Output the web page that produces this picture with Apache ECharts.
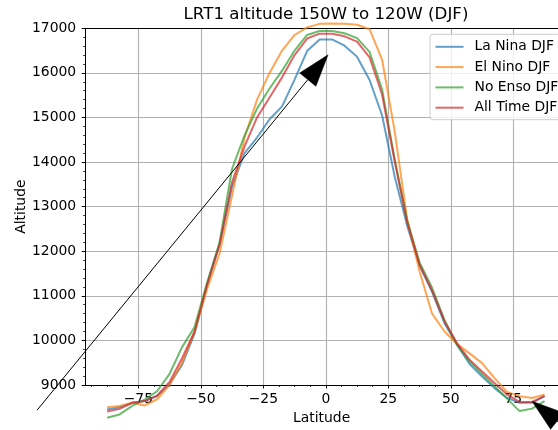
<!DOCTYPE html>
<html><head><meta charset="utf-8">
<script src="https://cdn.jsdelivr.net/npm/echarts@6/dist/echarts.min.js"></script>
<style>html,body{margin:0;padding:0;background:#fff}#c{width:558px;height:430px}</style>
</head><body><div id="c"></div>
<script>
const latitudes = [-87.5, -82.5, -77.5, -72.5, -67.5, -62.5, -57.5, -52.5, -47.5, -42.5, -37.5, -32.5,
  -27.5, -22.5, -17.5, -12.5, -7.5, -2.5, 2.5, 7.5, 12.5, 17.5, 22.5, 27.5,
  32.5, 37.5, 42.5, 47.5, 52.5, 57.5, 62.5, 67.5, 72.5, 77.5, 82.5, 87.5];
const laNina = [8450, 8500, 8600, 8640, 8750, 9020, 9450, 10150, 11250, 12150, 13450, 14200,
  14550, 14960, 15250, 15850, 16490, 16750, 16750, 16610, 16360, 15840, 15050, 13690,
  12580, 11680, 11090, 10380, 9900, 9470, 9190, 8930, 8710, 8600, 8600, 8750];
const elNino = [8500, 8530, 8600, 8540, 8680, 9000, 9500, 10200, 11150, 11950, 13250, 14550,
  15400, 16000, 16500, 16850, 17020, 17100, 17110, 17100, 17080, 16980, 16300, 14710,
  12730, 11550, 10600, 10200, 9920, 9710, 9490, 9155, 8845, 8750, 8710, 8785];
const noEnso = [8265, 8340, 8530, 8670, 8860, 9250, 9850, 10300, 11300, 12200, 13850, 14600,
  15200, 15650, 16050, 16500, 16850, 16940, 16940, 16890, 16780, 16470, 15630, 14080,
  12700, 11750, 11180, 10455, 9900, 9530, 9245, 8970, 8695, 8415, 8470, 8640];
const allTime = [8405, 8465, 8600, 8640, 8760, 9070, 9600, 10200, 11250, 12150, 13550, 14350,
  15000, 15450, 15900, 16400, 16770, 16880, 16880, 16820, 16700, 16350, 15520, 14030,
  12660, 11700, 11120, 10425, 9935, 9565, 9305, 9045, 8785, 8620, 8620, 8750];
const seriesNames = ['La Nina DJF', 'El Nino DJF', 'No Enso DJF', 'All Time DJF'];
const xTicks = [-75, -50, -25, 0, 25, 50, 75];
const xMinorTicks = [-93.75, -87.5, -81.25, -68.75, -62.5, -56.25, -43.75, -37.5, -31.25, -18.75, -12.5, -6.25,
  6.25, 12.5, 18.75, 31.25, 37.5, 43.75, 56.25, 62.5, 68.75, 81.25, 87.5];
const yTicks = [9000, 10000, 11000, 12000, 13000, 14000, 15000, 16000, 17000];
// visible part of the x range (the plot continues past the right edge of the picture)
const xMin = -96.25, xMaxVisible = 92.88;
// annotation arrows (data coordinates: [tail], [tip])
const arrow1 = [[-115.5, 8435], [0.9, 16404]];
const arrow2 = [[176, 4480], [82.5, 8636]];

const colors = ['rgba(31,119,180,0.7)', 'rgba(255,127,14,0.7)', 'rgba(44,160,44,0.7)', 'rgba(214,39,40,0.7)'];
const values = [laNina, elNino, noEnso, allTime];
const FONT = 'DejaVu Sans';

const chart = echarts.init(document.getElementById('c'), null, {renderer: 'canvas'});
const option = {
  animation: false,
  backgroundColor: '#fff',
  title: {
    text: 'LRT1 altitude 150W to 120W (DJF)',
    left: 326, top: 6, padding: 0, textAlign: 'center',
    textStyle: {fontFamily: FONT, fontSize: 16.7, fontWeight: 'normal', color: '#000'}
  },
  grid: {left: 85.2, top: 28.3, right: 0, height: 358.4, show: false},
  legend: {
    orient: 'vertical', left: 430, top: 34.3, icon: 'rect',
    padding: [5.5, 2, 5, 5.5], itemWidth: 28, itemHeight: 2, itemGap: 6.3,
    backgroundColor: 'rgba(255,255,255,0.8)', borderColor: '#cccccc', borderWidth: 1, borderRadius: 3,
    textStyle: {fontFamily: FONT, fontSize: 13.9, color: '#000', padding: [0, 0, 0, 6]},
    data: seriesNames
  },
  xAxis: [{
    type: 'value', min: xMin, max: xMaxVisible, position: 'bottom',
    name: 'Latitude', nameLocation: 'middle', nameGap: 26,
    nameTextStyle: {fontFamily: FONT, fontSize: 13.9, color: '#000'},
    axisLine: {show: true, onZero: false, lineStyle: {color: '#000', width: 1}},
    axisTick: {show: true, length: 3.5, customValues: xTicks, lineStyle: {color: '#000', width: 1}},
    axisLabel: {customValues: xTicks, margin: 7, fontFamily: FONT, fontSize: 13.9, color: '#000',
      formatter: v => String(v).replace('-', '\u2212')},
    splitLine: {show: true, lineStyle: {color: '#b0b0b0', width: 1.1}}
  }, {
    type: 'value', min: xMin, max: xMaxVisible, position: 'bottom',
    axisLine: {show: false, onZero: false},
    axisTick: {show: true, length: 2, customValues: xMinorTicks, lineStyle: {color: '#000', width: 0.8}},
    axisLabel: {show: false},
    splitLine: {show: false}
  }, {
    type: 'value', min: xMin, max: xMaxVisible, position: 'top',
    axisLine: {show: true, onZero: false, lineStyle: {color: '#000', width: 1}},
    axisTick: {show: false}, axisLabel: {show: false}, splitLine: {show: false}
  }],
  yAxis: {
    type: 'value', min: 9000, max: 17000, interval: 1000,
    name: 'Altitude', nameLocation: 'middle', nameGap: 57, nameMoveOverlap: false,
    nameTextStyle: {fontFamily: FONT, fontSize: 13.9, color: '#000'},
    axisLine: {show: true, onZero: false, lineStyle: {color: '#000', width: 1}},
    axisTick: {show: true, length: 3.5, lineStyle: {color: '#000', width: 1}},
    minorTick: {show: true, splitNumber: 5, length: 2, lineStyle: {color: '#000', width: 0.8}},
    axisLabel: {margin: 9, fontFamily: FONT, fontSize: 13.9, color: '#000', formatter: v => String(v)},
    splitLine: {show: true, lineStyle: {color: '#b0b0b0', width: 1.1}}
  },
  series: seriesNames.map((name, k) => ({
    name, type: 'line', xAxisIndex: 0, yAxisIndex: 0,
    data: latitudes.map((x, i) => [x, values[k][i]]),
    symbol: 'none', clip: false, color: colors[k],
    lineStyle: {width: 2, color: colors[k], join: 'round'},
    z: 3
  }))
};
chart.setOption(option);

function arrowGraphic(a) {
  const S = chart.convertToPixel({xAxisIndex: 0, yAxisIndex: 0}, a[0]);
  const T = chart.convertToPixel({xAxisIndex: 0, yAxisIndex: 0}, a[1]);
  const dx = T[0] - S[0], dy = T[1] - S[1], L = Math.hypot(dx, dy);
  const ux = dx / L, uy = dy / L, nx = -uy, ny = ux;
  const hl = 32, hw = 10.5;
  const B = [T[0] - hl * ux, T[1] - hl * uy];
  return [
    {type: 'line', z: 100, shape: {x1: S[0], y1: S[1], x2: B[0], y2: B[1]}, style: {stroke: '#000', lineWidth: 1}},
    {type: 'polygon', z: 100, shape: {points: [T, [B[0] + hw * nx, B[1] + hw * ny], [B[0] - hw * nx, B[1] - hw * ny]]}, style: {fill: '#000', stroke: '#000', lineWidth: 0.5}}
  ];
}
chart.setOption({graphic: [...arrowGraphic(arrow1), ...arrowGraphic(arrow2)]});
</script></body></html>
